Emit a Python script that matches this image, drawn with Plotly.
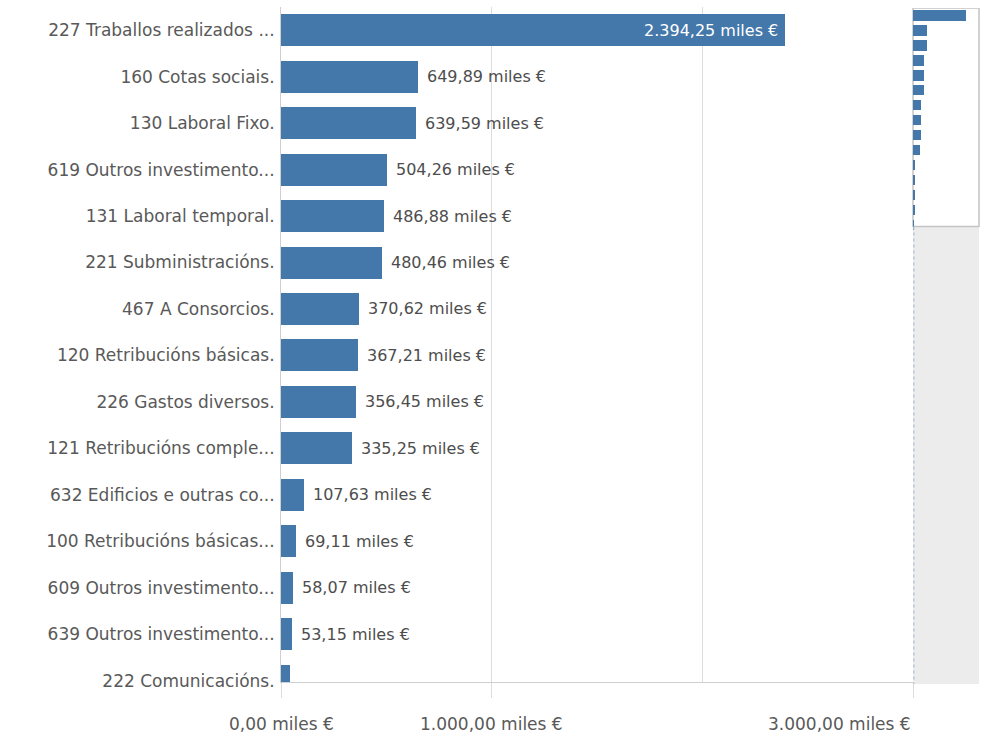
import plotly.graph_objects as go

categories = [
    "227 Traballos realizados ...",
    "160 Cotas sociais.",
    "130 Laboral Fixo.",
    "619 Outros investimento...",
    "131 Laboral temporal.",
    "221 Subministracións.",
    "467 A Consorcios.",
    "120 Retribucións básicas.",
    "226 Gastos diversos.",
    "121 Retribucións comple...",
    "632 Edificios e outras co...",
    "100 Retribucións básicas...",
    "609 Outros investimento...",
    "639 Outros investimento...",
    "222 Comunicacións.",
]
values = [2394.25, 649.89, 639.59, 504.26, 486.88, 480.46, 370.62, 367.21,
          356.45, 335.25, 107.63, 69.11, 58.07, 53.15, 45.0]
value_labels = ["2.394,25 miles €", "649,89 miles €", "639,59 miles €", "504,26 miles €",
                "486,88 miles €", "480,46 miles €", "370,62 miles €", "367,21 miles €",
                "356,45 miles €", "335,25 miles €", "107,63 miles €", "69,11 miles €",
                "58,07 miles €", "53,15 miles €", ""]
x_tick_values = [0, 1000, 3000]
x_tick_labels = ["0,00 miles €", "1.000,00 miles €", "3.000,00 miles €"]

W, H = 988, 743          # target picture size
FIG_H = 751              # figure height (compensates vertical squeeze seen in capture)
FONT = "DejaVu Sans"
BAR = "#4477aa"
GRID = "#dcdcdc"
TXT = "#595959"
LBL = "#4d4d4d"

rows = list(range(len(categories)))


def fy(px):
    """paper fraction for a target pixel row (from top)"""
    return 1 - px / H


fig = go.Figure()
fig.add_trace(go.Bar(
    y=rows, x=values, orientation="h", width=0.69,
    marker=dict(color=BAR, line=dict(width=0)),
    cliponaxis=True, hoverinfo="skip", xaxis="x", yaxis="y",
))
# navigator mini chart
fig.add_trace(go.Bar(
    y=rows, x=values, orientation="h", width=0.69,
    marker=dict(color=BAR, line=dict(width=0)),
    hoverinfo="skip", xaxis="x2", yaxis="y2",
))

fig.update_layout(
    width=W, height=FIG_H, autosize=False,
    margin=dict(l=0, r=0, t=0, b=0),
    paper_bgcolor="white", plot_bgcolor="rgba(0,0,0,0)",
    showlegend=False, bargap=0,
    font=dict(family=FONT, color=TXT),
    xaxis=dict(
        domain=[281 / W, 913 / W], range=[0, 3000], fixedrange=True,
        tickmode="array", tickvals=x_tick_values, ticktext=[""] * 3,
        ticks="outside", ticklen=15, tickcolor=GRID,
        showgrid=True, gridcolor=GRID, gridwidth=1,
        minor=dict(tickmode="array", tickvals=[2000], showgrid=True, gridcolor=GRID, ticks=""),
        showline=True, linecolor="#cfcfcf", zeroline=False,
        anchor="y",
    ),
    yaxis=dict(
        domain=[fy(683), fy(7)], range=[14.03, -0.5], fixedrange=True,
        tickmode="array", tickvals=rows, ticktext=categories,
        tickfont=dict(size=17, family=FONT, color=TXT),
        ticks="outside", ticklen=2, tickcolor="rgba(0,0,0,0)",
        showgrid=False, showline=True, linecolor="#cfcfcf", zeroline=False,
        anchor="x",
    ),
    xaxis2=dict(domain=[913 / W, 979 / W], range=[0, 3000], showgrid=False, fixedrange=True,
                showticklabels=False, ticks="", zeroline=False, showline=False, anchor="y2"),
    yaxis2=dict(domain=[fy(685), fy(8)], range=[44.67, -0.5], showgrid=False, fixedrange=True,
                showticklabels=False, ticks="", zeroline=False, showline=False, anchor="x2"),
)

# value labels
for i, (v, t) in enumerate(zip(values, value_labels)):
    if not t:
        continue
    if i == 0:
        fig.add_annotation(x=v, y=i, xref="x", yref="y", text=t, showarrow=False,
                           xanchor="right", xshift=-5, yanchor="middle",
                           font=dict(size=16, family=FONT, color="white"))
    else:
        fig.add_annotation(x=v, y=i, xref="x", yref="y", text=t, showarrow=False,
                           xanchor="left", xshift=7, yanchor="middle",
                           font=dict(size=16, family=FONT, color=LBL))

# navigator background: grey track and white viewport box
fig.add_shape(type="rect", xref="x2 domain", yref="y2", x0=0, x1=1, y0=-0.5, y1=44.67,
              fillcolor="#ececec", line=dict(width=0), layer="below")
fig.add_shape(type="rect", xref="x2 domain", yref="y2", x0=0, x1=1, y0=-0.5, y1=14.1,
              fillcolor="white", line=dict(color="#c4c4c4", width=1.5), layer="below")
fig.add_shape(type="line", xref="x2 domain", yref="y2", x0=0.012, x1=0.012, y0=14.1, y1=44.67,
              line=dict(color="#b8c6d8", width=1.5, dash="3px,3px"), layer="above")

# x tick labels
anchors = ["center", "center", "right"]
for v, t, a in zip(x_tick_values, x_tick_labels, anchors):
    fig.add_annotation(x=v, xref="x", y=fy(725), yref="paper", text=t, showarrow=False,
                       xanchor=a, yanchor="middle", font=dict(size=17, family=FONT, color=TXT))

fig.write_html("out.html", config={"displayModeBar": False},
               post_script="document.body.style.margin='0';")
